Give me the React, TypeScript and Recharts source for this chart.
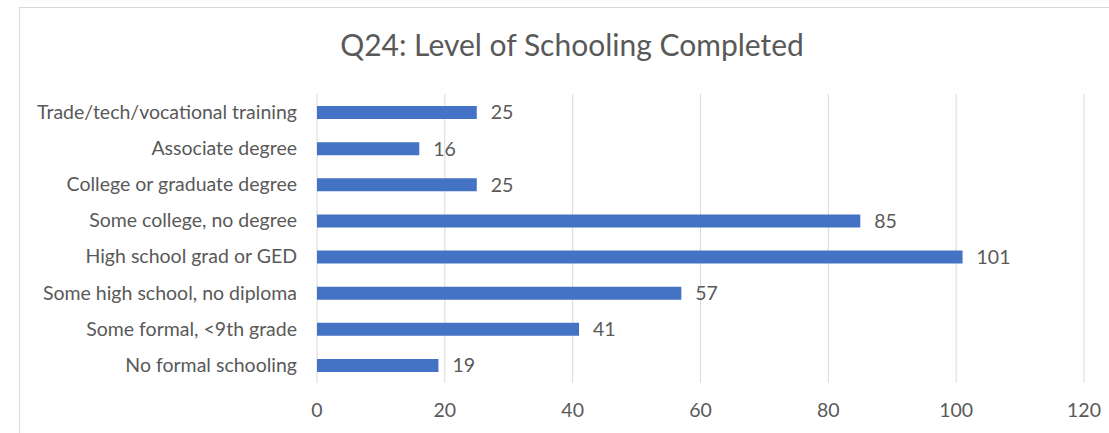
import React from "react";
import { BarChart, Bar, XAxis, YAxis, CartesianGrid, LabelList } from "recharts";

const categories = [
  "Trade/tech/vocational training",
  "Associate degree",
  "College or graduate degree",
  "Some college, no degree",
  "High school grad or GED",
  "Some high school, no diploma",
  "Some formal, <9th grade",
  "No formal schooling",
];
const counts = [25, 16, 25, 85, 101, 57, 41, 19];
const xTicks = [0, 20, 40, 60, 80, 100, 120];

const data = categories.map((name, i) => ({ name, value: counts[i] }));

const textColor = "#595959";
const font = "Lato, 'Open Sans', sans-serif";
const fs = 19.5;

export default function App() {
  return (
    <div style={{ position: "absolute", left: 0, top: 0, width: 1109, height: 433, overflow: "hidden", background: "#fff", fontFamily: font }}>
      <div style={{ position: "absolute", left: 19, top: 7, width: 1200, height: 600, border: "1px solid #d9d9d9", boxSizing: "border-box" }} />
      <div style={{ position: "absolute", left: 0, top: 26, width: 1144, textAlign: "center", fontSize: 30, lineHeight: "36px", color: textColor }}>
        Q24: Level of Schooling Completed
      </div>
      <div style={{ position: "absolute", left: 0, top: 0 }}>
        <BarChart width={1109} height={433} data={data} layout="vertical" margin={{ top: 94, right: 25, bottom: 0, left: 0 }}>
          <CartesianGrid horizontal={false} stroke="#d9d9d9" />
          <XAxis
            type="number"
            domain={[0, 120]}
            ticks={xTicks}
            axisLine={false}
            tickLine={false}
            tickSize={0}
            tickMargin={20}
            height={50}
            tick={{ fill: textColor, fontSize: fs, fontFamily: font }}
          />
          <YAxis
            type="category"
            dataKey="name"
            width={317}
            axisLine={false}
            tickLine={false}
            tickSize={0}
            tickMargin={20}
            interval={0}
            tick={{ fill: textColor, fontSize: fs, fontFamily: font }}
          />
          <Bar dataKey="value" fill="#4472C4" barSize={13} isAnimationActive={false}>
            <LabelList dataKey="value" position="right" offset={14} fill={textColor} fontSize={fs} fontFamily={font} />
          </Bar>
        </BarChart>
      </div>
    </div>
  );
}
